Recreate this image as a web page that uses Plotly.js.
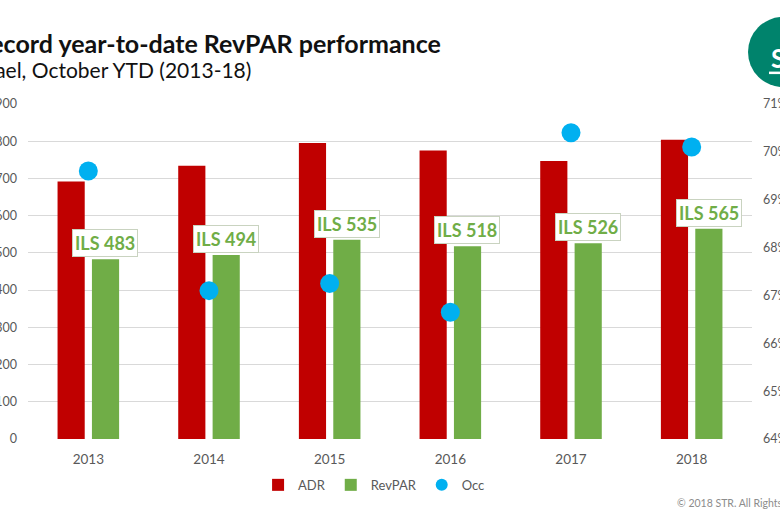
<!DOCTYPE html>
<html><head><meta charset="utf-8">
<script src="https://cdn.plot.ly/plotly-3.0.1.min.js"></script>
<style>html,body{margin:0;padding:0;background:#fff}</style>
</head><body>
<div id="chart" style="width:780px;height:520px"></div>
<script>
// ---- data ----
const years = ['2013', '2014', '2015', '2016', '2017', '2018'];
const adr = [692, 734, 795, 775, 747, 804];
const revpar = [483, 494, 535, 518, 526, 565];
const occ = [0.696, 0.671, 0.6725, 0.6665, 0.704, 0.701];
const leftTicks = [0, 100, 200, 300, 400, 500, 600, 700, 800, 900];
const rightTicks = [0.64, 0.65, 0.66, 0.67, 0.68, 0.69, 0.70, 0.71];
const labelPrefix = 'ILS ';

const FONT = 'Lato, "Open Sans", sans-serif';
const GREY = '#595959';

const traces = [
  {type: 'bar', name: 'ADR', x: years, y: adr, marker: {color: '#C00000'}, hoverinfo: 'y'},
  {type: 'bar', name: 'RevPAR', x: years, y: revpar, marker: {color: '#70AD47'}, hoverinfo: 'y'},
  {type: 'scatter', mode: 'markers', name: 'Occ', x: years, y: occ, yaxis: 'y2',
   marker: {color: '#00B0F0', size: 19}, cliponaxis: false, hoverinfo: 'y'}
];

// data labels above the RevPAR bars (x given as category index)
const annotations = revpar.map((v, i) => ({
  x: i, y: v, xref: 'x', yref: 'y', xshift: 17, yshift: 2,
  yanchor: 'bottom', xanchor: 'center', showarrow: false,
  text: '<b>' + labelPrefix + v + '</b>',
  font: {family: FONT, size: 18, color: '#70AD47'},
  bgcolor: '#ffffff', bordercolor: '#c9d3c0', borderwidth: 1, borderpad: 2
}));

annotations.push(
  {xref: 'paper', yref: 'paper', x: 0.573, y: 1.182, xanchor: 'right', yanchor: 'middle',
   showarrow: false, text: '<b>Record year-to-date RevPAR performance</b>',
   font: {family: FONT, size: 25, color: '#111111'}},
  {xref: 'paper', yref: 'paper', x: 0.311, y: 1.104, xanchor: 'right', yanchor: 'middle',
   showarrow: false, text: 'Israel, October YTD (2013-18)',
   font: {family: FONT, size: 21, color: '#111111'}},
  {xref: 'paper', yref: 'paper', x: 0.894, y: -0.191, xanchor: 'left', yanchor: 'middle',
   showarrow: false, text: '© 2018 STR. All Rights Reserved.',
   font: {family: FONT, size: 10.5, color: '#8c8c8c'}},
  {xref: 'paper', yref: 'paper', x: 1.0235, y: 1.137, xanchor: 'left', yanchor: 'middle',
   showarrow: false, text: '<b>STR</b>',
   font: {family: FONT, size: 26, color: '#ffffff'}}
);

const layout = {
  width: 780, height: 520,
  margin: {l: 28, r: 28, t: 104, b: 81, pad: 0},
  paper_bgcolor: '#ffffff', plot_bgcolor: '#ffffff',
  font: {family: FONT, color: GREY, size: 14},
  barmode: 'group', bargap: 0.43, bargroupgap: 0.21,
  showlegend: true,
  legend: {orientation: 'h', x: 0.478, xanchor: 'center', y: -0.137, yanchor: 'middle',
           font: {family: FONT, size: 13, color: GREY}, itemsizing: 'constant', itemwidth: 30},
  xaxis: {type: 'category', range: [-0.5, 5.5], showgrid: false, showline: false, zeroline: false, ticks: '',
          tickfont: {family: FONT, size: 13.5, color: GREY}, ticklabelstandoff: 10, fixedrange: true},
  yaxis: {range: [0, 900], tickvals: leftTicks, tickprefix: labelPrefix, showgrid: true,
          gridcolor: '#D9D9D9', gridwidth: 1, zeroline: false, showline: false, ticks: '',
          tickfont: {family: FONT, size: 12.5, color: GREY}, ticklabelstandoff: 10, fixedrange: true},
  yaxis2: {range: [0.64, 0.71], tickvals: rightTicks, tickformat: '.0%', overlaying: 'y', side: 'right',
           showgrid: false, zeroline: false, showline: false, ticks: '',
           tickfont: {family: FONT, size: 12.5, color: GREY}, ticklabelstandoff: 10, fixedrange: true},
  annotations: annotations,
  shapes: [
    {type: 'circle', xref: 'paper', yref: 'paper', x0: 0.9945, x1: 1.091, y0: 1.0507, y1: 1.2597,
     fillcolor: '#00836C', line: {width: 0}, layer: 'below'},
    {type: 'line', xref: 'paper', yref: 'paper', x0: 1.0235, x1: 1.05, y0: 1.093, y1: 1.093,
     line: {color: '#ffffff', width: 2.5}}
  ]
};

Plotly.newPlot('chart', traces, layout, {displayModeBar: false, staticPlot: true});
</script>
</body></html>
